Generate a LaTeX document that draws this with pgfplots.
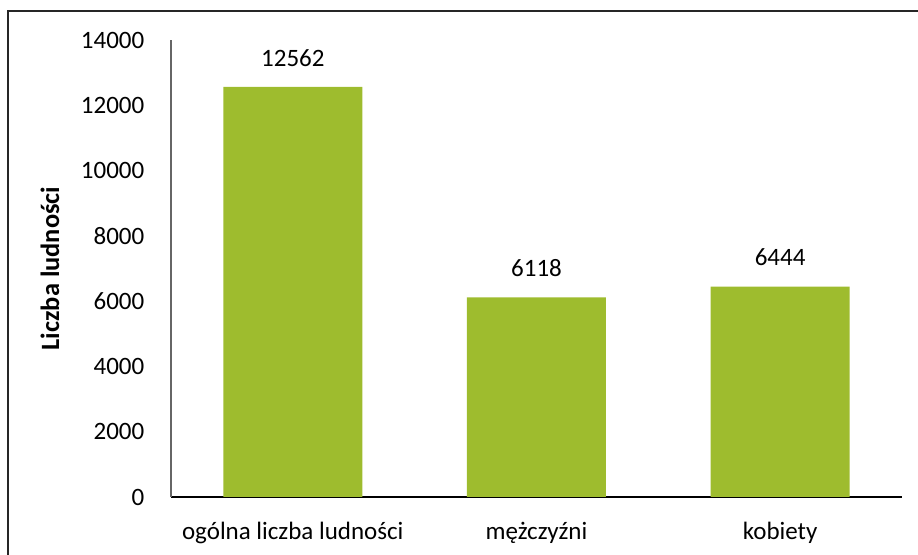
\documentclass[border=0pt]{standalone}
\usepackage{pgfplots}
\pgfplotsset{compat=1.18}
\usepackage{fontspec}
\setmainfont{Carlito}
\definecolor{bargreen}{RGB}{158,188,46}
\begin{document}
\fontsize{12.5}{15}\selectfont
\begin{tikzpicture}
\begin{axis}[
  name=ax,
  scale only axis,
  width=365.5pt, height=228.5pt,
  xmin=-0.5, xmax=2.5,
  ymin=0, ymax=14000,
  ytick={0,2000,...,14000},
  xtick=data,
  xticklabels={ogólna liczba ludności, mężczyźni, kobiety},
  axis x line=bottom, axis y line=left,
  x axis line style={-, black, line width=0.8pt},
  y axis line style={-, gray!80!black, line width=0.6pt},
  major tick length=0pt,
  /pgf/number format/assume math mode=true,
  scaled y ticks=false,
  yticklabel style={/pgf/number format/1000 sep={}, xshift=-9pt},
  xticklabel style={yshift=-8pt},
  ylabel={\fontsize{13.2}{15}\selectfont\textbf{Liczba ludności}},
  ylabel style={at={(axis description cs:-0.1655,0.5)}, anchor=center, rotate=0},
  ybar, bar width=69.5pt,
  nodes near coords,
  every node near coord/.append style={yshift=6pt, black, /pgf/number format/1000 sep={}},
  tick label style={black},
]
\addplot[fill=bargreen, draw=none] coordinates {(0,12562) (1,6118) (2,6444)};
\end{axis}
\useasboundingbox ([shift={(-85.5pt,-29pt)}]ax.south west) rectangle ([shift={(373.5pt,248.5pt)}]ax.south west);
\draw[line width=0.9pt, black!85] ([shift={(-81.5pt,-29pt)}]ax.south west) -- ([shift={(-81.5pt,243pt)}]ax.south west) -- ([shift={(373.5pt,243pt)}]ax.south west);
\end{tikzpicture}
\end{document}
